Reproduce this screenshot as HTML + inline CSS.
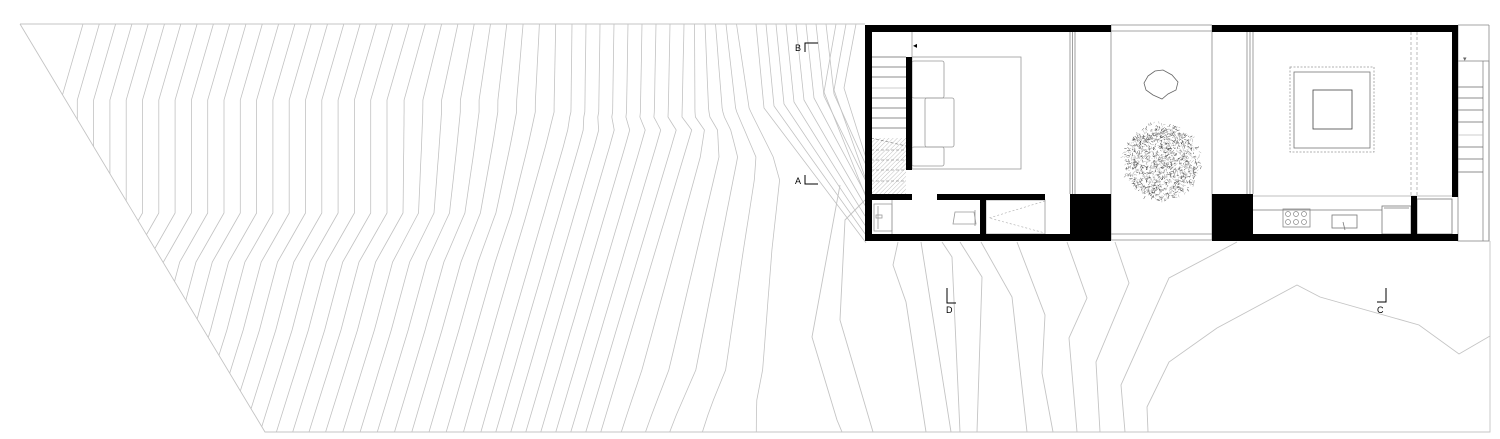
<!DOCTYPE html>
<html><head><meta charset="utf-8"><style>
html,body{margin:0;padding:0;background:#fff;width:1500px;height:439px;overflow:hidden}
svg{display:block}
text{font-family:"Liberation Sans",sans-serif;font-size:9px;fill:#000}
</style></head><body>
<svg id="s" width="1500" height="439" viewBox="0 0 1500 439" xmlns="http://www.w3.org/2000/svg">
<defs>
<clipPath id="site"><polygon points="20,24 865,24 865,241 1490,241 1490,432 265,432"/></clipPath>
<pattern id="hatch" width="3" height="3" patternUnits="userSpaceOnUse" patternTransform="rotate(45)"><line x1="0" y1="0" x2="0" y2="3" stroke="#999" stroke-width="0.6"/></pattern>
</defs>
<g id="contours" clip-path="url(#site)" fill="none" stroke="#c2c2c2" stroke-width="0.8"></g>
<g fill="none" stroke="#c4c4c4" stroke-width="0.9">
<polyline points="20,24 865,24"/>
<polyline points="20,24 265,432 1490,432 1490,241"/>
<polyline points="898,242 893,265 906,302 926,432"/>
<polyline points="921,242 951,432"/>
<polyline points="942,242 952,257 960,432"/>
<polyline points="960,242 982,277 977,432"/>
<polyline points="981,242 1012,297 1027,432"/>
<polyline points="1017,242 1045,315 1042,373 1053,432"/>
<polyline points="1067,242 1087,298 1069,338 1077,432"/>
<polyline points="1115,242 1129,283 1096,362 1100,432"/>
<polyline points="1237,242 1169,278 1121,385 1125,432"/>
<polyline points="1148,432 1147,407 1169,362 1217,328 1297,285 1320,297 1419,325 1459,354 1490,336"/>
<polyline points="840,185 812,337 837,420 842,432"/>
<polyline points="865,200 845,220 840,320 873,432"/>
</g>
<!-- building -->
<rect x="865" y="25" width="246" height="216" fill="#fff"/>
<rect x="1111" y="25" width="101" height="216" fill="#fff"/>
<rect x="1212" y="25" width="278" height="216" fill="#fff"/>
<g fill="none" stroke="#888" stroke-width="0.8">
<line x1="1111" y1="25" x2="1212" y2="25"/><line x1="1111" y1="31" x2="1212" y2="31"/>
<line x1="1111" y1="234" x2="1212" y2="234"/><line x1="1111" y1="240" x2="1212" y2="240"/>
<line x1="1111" y1="25" x2="1111" y2="240"/><line x1="1212" y1="25" x2="1212" y2="240"/>
<line x1="1070" y1="32" x2="1070" y2="194"/><line x1="1072.5" y1="32" x2="1072.5" y2="194"/><line x1="1075" y1="32" x2="1075" y2="194"/>
<line x1="1247" y1="32" x2="1247" y2="194"/><line x1="1250" y1="32" x2="1250" y2="194"/><line x1="1253" y1="32" x2="1253" y2="194"/>
<line x1="1458" y1="25" x2="1489" y2="25"/><line x1="1489" y1="25" x2="1489" y2="241"/><line x1="1458" y1="25" x2="1458" y2="61"/>
<rect x="1458" y="61" width="31" height="180"/>
<line x1="1483" y1="61" x2="1483" y2="241"/>
</g>
<g stroke="#666" stroke-width="0.8">
<line x1="1458" y1="87" x2="1483" y2="87"/><line x1="1458" y1="98" x2="1483" y2="98"/><line x1="1458" y1="110" x2="1483" y2="110"/><line x1="1458" y1="122" x2="1483" y2="122"/><line x1="1458" y1="135" x2="1483" y2="135" stroke="#bbb"/><line x1="1458" y1="147" x2="1483" y2="147"/><line x1="1458" y1="159" x2="1483" y2="159"/><line x1="1458" y1="172" x2="1483" y2="172"/>
<line x1="871" y1="57" x2="906" y2="57"/><line x1="871" y1="67" x2="906" y2="67"/><line x1="871" y1="77" x2="906" y2="77"/><line x1="871" y1="88" x2="906" y2="88" stroke="#bbb"/><line x1="871" y1="98" x2="906" y2="98"/><line x1="871" y1="108" x2="906" y2="108"/><line x1="871" y1="118" x2="906" y2="118"/><line x1="871" y1="128" x2="906" y2="128"/>
</g>
<rect x="871" y="138" width="35" height="56" fill="url(#hatch)"/>
<g stroke="#777" stroke-width="0.6" stroke-dasharray="3,2" fill="none">
<line x1="871" y1="150" x2="906" y2="150"/><line x1="871" y1="160" x2="906" y2="160"/><line x1="871" y1="170" x2="906" y2="170"/><line x1="871" y1="181" x2="906" y2="181"/>
<line x1="871" y1="138" x2="906" y2="146"/>
</g>
<!-- bed -->
<g fill="none" stroke="#999" stroke-width="0.8">
<rect x="912" y="57" width="109" height="112"/>
<rect x="912" y="61" width="32" height="37" rx="2"/>
<rect x="925" y="98" width="29" height="49" rx="2"/>
<rect x="912" y="147" width="32" height="19" rx="2"/>
<line x1="912" y1="98" x2="912" y2="147"/>
<line x1="912" y1="32" x2="912" y2="57"/>
</g>
<text x="913" y="48" style="font-size:8px">◂</text>
<!-- bathroom -->
<g fill="none" stroke="#999" stroke-width="0.8">
<rect x="874" y="204" width="18" height="27"/>
<line x1="878" y1="206" x2="878" y2="229"/>
<rect x="876" y="215" width="6" height="3"/>
<line x1="892" y1="200" x2="892" y2="234"/>
<path d="M955,212 L974,212 L976,224 L953,224 Z"/>
<line x1="975" y1="210" x2="975" y2="226"/>
<rect x="986" y="200" width="59" height="34"/>
</g>
<g fill="none" stroke="#aaa" stroke-width="0.6" stroke-dasharray="2,2"><polyline points="1045,201 989,218 1045,233"/></g>
<!-- right room -->
<g fill="none" stroke="#777" stroke-width="0.8">
<rect x="1290" y="67" width="84" height="85" stroke-dasharray="2,1.5" stroke="#999"/>
<rect x="1294" y="72" width="76" height="76"/>
<rect x="1313" y="90" width="39" height="39" stroke="#444"/>
<line x1="1411" y1="32" x2="1411" y2="196" stroke-dasharray="3,2" stroke="#aaa"/>
<line x1="1417" y1="32" x2="1417" y2="196" stroke-dasharray="3,2" stroke="#aaa"/>
<line x1="1253" y1="196" x2="1452" y2="196" stroke="#aaa"/>
<line x1="1253" y1="210" x2="1382" y2="210"/>
<rect x="1283" y="209" width="27" height="18" stroke="#888"/>
<rect x="1332" y="215" width="25" height="13"/>
<line x1="1343" y1="222" x2="1345" y2="230"/>
<rect x="1382" y="206" width="29" height="28"/>
<line x1="1384" y1="208" x2="1409" y2="208"/>
<rect x="1417" y="199" width="35" height="35"/>
</g>
<g fill="none" stroke="#888" stroke-width="0.7">
<circle cx="1288" cy="214" r="2.5"/><circle cx="1296" cy="214" r="2.5"/><circle cx="1304" cy="214" r="2.5"/>
<circle cx="1288" cy="222" r="2.5"/><circle cx="1296" cy="222" r="2.5"/><circle cx="1304" cy="222" r="2.5"/>
</g>
<!-- rock -->
<path d="M1148,76 L1155,71 L1163,70 L1172,75 L1178,82 L1176,90 L1168,94 L1162,99 L1153,95 L1146,90 L1144,83 Z" fill="none" stroke="#666" stroke-width="0.8"/>
<g id="tree"></g>
<!-- walls -->
<g fill="#000">
<rect x="865" y="25" width="246" height="7"/>
<rect x="1212" y="25" width="246" height="7"/>
<rect x="865" y="25" width="7" height="216"/>
<rect x="865" y="234" width="246" height="7"/>
<rect x="1212" y="234" width="246" height="7"/>
<rect x="1452" y="25" width="6" height="172"/>
<rect x="1070" y="194" width="41" height="47"/>
<rect x="1212" y="194" width="41" height="47"/>
<rect x="865" y="194" width="47" height="6"/>
<rect x="937" y="194" width="108" height="6"/>
<rect x="906" y="57" width="6" height="113"/>
<rect x="980" y="200" width="6" height="34"/>
<rect x="1411" y="196" width="6" height="38"/>
</g>
<text x="1463" y="61" style="font-size:7px;fill:#666">▾</text>
<!-- section markers -->
<g fill="none" stroke="#000" stroke-width="1">
<polyline points="818,43 805,43 805,52"/>
<polyline points="805,175 805,184 818,184"/>
<polyline points="947,288 947,303 956,303"/>
<polyline points="1386,288 1386,302 1377,302"/>
</g>
<text x="795" y="51">B</text>
<text x="795" y="184">A</text>
<text x="946" y="313">D</text>
<text x="1377" y="313">C</text>
</svg>
<script>
(function(){
var NS="http://www.w3.org/2000/svg";
function at(p,y){if(y<=p[0][0])return p[0][1];for(var i=1;i<p.length;i++){if(y<=p[i][0]){var a=p[i-1],b=p[i];return a[1]+(b[1]-a[1])*(y-a[0])/(b[0]-a[0]);}}return p[p.length-1][1];}
var L=[[24,0],[100,-22],[213,-22],[262,-50],[330,-68],[432,-100]];
var G=[[83,L],[420,L],[560,[[24,0],[112,-1],[147,-10],[320,-60],[432,-92]]],
[687,[[24,0],[117,-2],[130,8],[180,-7],[432,-83]]],
[723,[[24,0],[110,9],[157,28],[370,-8],[430,-36]]],
[745,[[24,0],[108,15],[180,55],[250,50],[400,47],[432,55]]]];
var ys=[24,40,60,80,100,108,112,117,125,130,140,147,157,165,180,200,213,220,230,250,262,280,300,320,330,350,370,385,400,415,432];
var g=document.getElementById("contours");
function poly(pts){var e=document.createElementNS(NS,"polyline");e.setAttribute("points",pts.join(" "));g.appendChild(e);}
var x0=83;
while(x0<=746){
 var k=0;while(k<G.length-2&&x0>G[k+1][0])k++;
 var a=G[k],b=G[k+1];var t=(x0-a[0])/(b[0]-a[0]);if(t<0)t=0;if(t>1)t=1;
 var pts=[];
 for(var i=0;i<ys.length;i++){var y=ys[i];var o=at(a[1],y)*(1-t)+at(b[1],y)*t;pts.push((x0+o).toFixed(1)+","+y);}
 poly(pts);
 x0+= x0<560?16.3:(x0<680?14:10.5);
}
for(var x1=756;x1<=858;x1+=10){
 var yb=108-(x1-756)*0.2, xb=x1+(x1<835?8:-12);
 var s=0.75-(x1-756)/100*0.45;
 var ye=yb+(865-xb)/s;
 poly([x1+",24",xb+","+yb.toFixed(1),"866,"+ye.toFixed(1)]);
}
var tr=document.getElementById("tree");var seed=7;function r(){seed=(seed*16807)%2147483647;return seed/2147483647;}
var cx=1162,cy=162,R=40,d="",d2="";
for(var i=0;i<1400;i++){var ang=r()*6.2832,rad=Math.sqrt(r())*R*(0.85+0.15*r());var x=cx+Math.cos(ang)*rad,y=cy+Math.sin(ang)*rad;var a2=r()*6.28,l=1.2+r()*2.2;
 var seg="M"+x.toFixed(1)+","+y.toFixed(1)+"l"+(Math.cos(a2)*l).toFixed(1)+","+(Math.sin(a2)*l).toFixed(1);
 if(r()<0.4)d+=seg;else d2+=seg;}
var p1=document.createElementNS(NS,"path");p1.setAttribute("d",d);p1.setAttribute("stroke","#444");p1.setAttribute("stroke-width","0.5");p1.setAttribute("fill","none");
var p2=document.createElementNS(NS,"path");p2.setAttribute("d",d2);p2.setAttribute("stroke","#aaa");p2.setAttribute("stroke-width","0.5");p2.setAttribute("fill","none");
tr.appendChild(p2);tr.appendChild(p1);
})();
</script>
</body></html>
